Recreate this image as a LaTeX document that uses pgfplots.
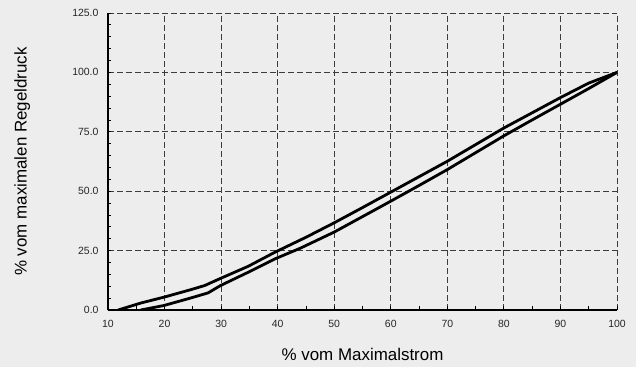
\documentclass[border=0pt]{standalone}
\usepackage{fontspec}
\setmainfont{Liberation Sans}
\usepackage{pgfplots}
\pgfplotsset{compat=1.18}
\definecolor{bg}{RGB}{236,237,236}
\definecolor{gridc}{RGB}{60,60,60}
\begin{document}
\begin{tikzpicture}
\fill[bg] (-108bp,-57bp) rectangle (528bp,310bp);
\path[use as bounding box] (-108bp,-57bp) rectangle (528bp,310bp);
\begin{axis}[
  at={(0,0)}, anchor=south west,
  scale only axis, width=509bp, height=297bp,
  xmin=10, xmax=100, ymin=0, ymax=125,
  xtick={10,20,...,100}, ytick={0,25,...,125},
  minor x tick num=1, minor y tick num=4,
  axis x line*=bottom, axis y line*=left,
  axis line style={line width=1.8bp, -},
  tick align=inside, major tick length=3.5bp, minor tick length=3.5bp,
  tick style={black, line width=0.8bp},
  grid=major,
  major grid style={gridc, line width=0.8bp, dash pattern=on 6bp off 3bp},
  /pgf/number format/assume math mode=true,
  yticklabel style={/pgf/number format/fixed, /pgf/number format/fixed zerofill, /pgf/number format/precision=1, xshift=-6bp},
  tick label style={font=\fontsize{10.5}{12}\selectfont, text=black!85},
  xticklabel style={yshift=-6.5bp},
  xlabel={\% vom Maximalstrom},
  ylabel={\% vom maximalen Regeldruck},
  xlabel style={font=\fontsize{17}{20}\selectfont, at={(axis description cs:0.5,-0.1717)}, anchor=base},
  ylabel style={font=\fontsize{17}{20}\selectfont, at={(axis description cs:-0.1597,0.5)}, anchor=base},
]
\addplot[black, line width=2.8bp, line join=round, line cap=round] coordinates {
(11.8,0) (15.9,3.0) (19.9,5.4) (24.7,8.6) (27.1,10.3) (29.9,13.3) (34.8,18.4) (39.5,24.3) (45,30.6) (50,36.7) (55,43.1) (60,49.6) (65,56.1) (70,62.6) (75,69.6) (80,76.6) (85,83.0) (90,89.4) (95,95.5) (100,100)
};
\addplot[black, line width=2.8bp, line join=round, line cap=round] coordinates {
(15.8,0) (19.9,1.9) (24.7,5.1) (27.7,7.2) (29.9,10.3) (34.8,15.9) (39.5,21.5) (44,26.0) (50,32.8) (55,39.3) (60,45.8) (65,52.4) (70,59.1) (75,66.2) (80,73.3) (85,80.0) (90,86.6) (95,93.2) (100,100)
};
\end{axis}
\end{tikzpicture}
\end{document}
